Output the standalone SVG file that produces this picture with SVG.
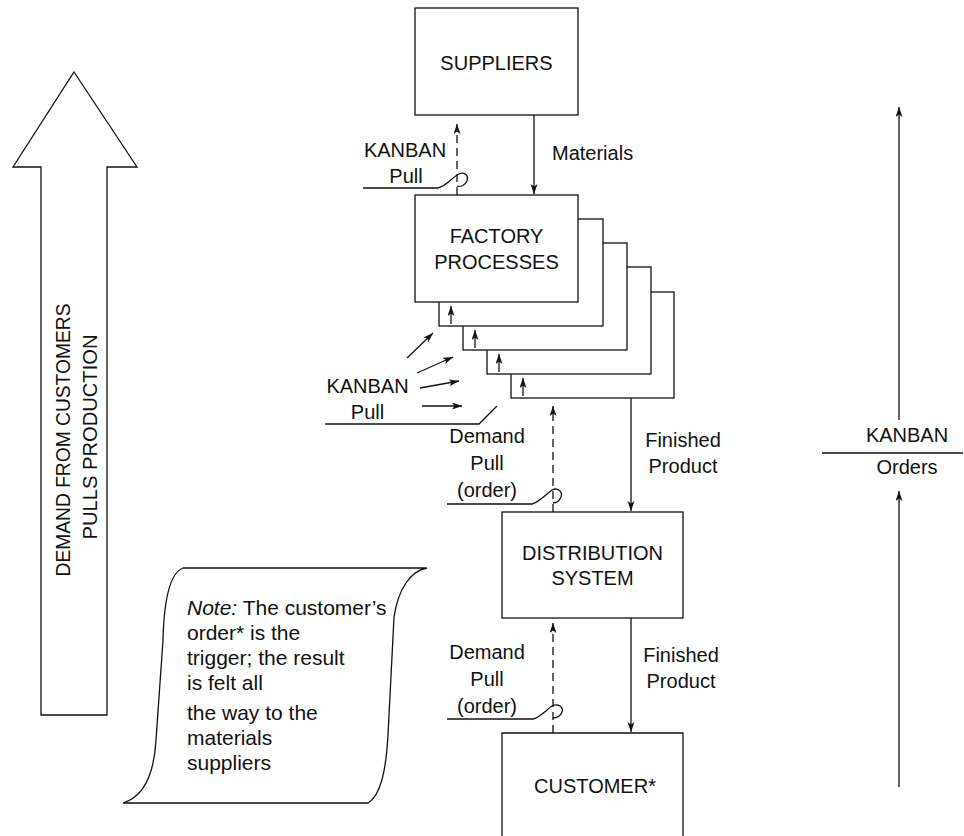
<svg xmlns="http://www.w3.org/2000/svg" width="964" height="836" viewBox="0 0 964 836">
<style>
  .ln { fill: none; stroke: #111; stroke-width: 1.3; }
  .dash { fill: none; stroke: #111; stroke-width: 1.3; stroke-dasharray: 8 5; }
  .box { fill: #fff; stroke: #111; stroke-width: 1.3; }
  text { font-family: "Liberation Sans", Arial, Helvetica, sans-serif; font-size: 20px; fill: #111; }
  .c { text-anchor: middle; }
  .note { font-size: 21px; }
</style>
<defs>
  <marker id="ah" markerUnits="userSpaceOnUse" markerWidth="12" markerHeight="8" refX="10" refY="3.5" orient="auto">
    <path d="M0,0 L10,3.5 L0,7 L2.5,3.5 Z" fill="#111"/>
  </marker>
</defs>

<!-- Big demand arrow -->
<g id="demand-arrow">
  <polygon class="box" points="74,72 137,167 107,167 107,715 41,715 41,167 13,167"/>
  <text class="c" transform="translate(70,440) rotate(-90)" font-size="22" textLength="273" lengthAdjust="spacingAndGlyphs">DEMAND FROM CUSTOMERS</text>
  <text class="c" transform="translate(97,437) rotate(-90)" font-size="22" textLength="205" lengthAdjust="spacingAndGlyphs">PULLS PRODUCTION</text>
</g>

<g id="suppliers">
  <rect class="box" x="415" y="8" width="163" height="107"/>
  <text class="c" x="496.5" y="70">SUPPLIERS</text>
</g>

<g id="factory">
  <rect class="box" x="511" y="292" width="163" height="106"/>
  <rect class="box" x="487" y="267" width="164" height="107"/>
  <rect class="box" x="463" y="243" width="164" height="107"/>
  <rect class="box" x="439" y="219" width="164" height="107"/>
  <rect class="box" x="415" y="195" width="163" height="107"/>
  <text class="c" x="496.5" y="243">FACTORY</text>
  <text class="c" x="496.5" y="269">PROCESSES</text>
</g>

<g id="distribution">
  <rect class="box" x="502" y="512" width="181" height="106"/>
  <text class="c" x="592.5" y="560">DISTRIBUTION</text>
  <text class="c" x="592.5" y="585">SYSTEM</text>
</g>

<g id="customer">
  <path class="box" d="M502,840 L502,733 L683,733 L683,840"/>
  <text class="c" x="595" y="793">CUSTOMER*</text>
</g>

<g id="note">
  <path class="box" d="M183,568 L427,568 C410,571 398,590 394,617 L388,735 C386,770 381,795 368,803 L123,803 C143,797 154,775 156,740 L163,640 C164,600 170,573 183,568 Z"/>
  <text class="note" x="187" y="615"><tspan font-style="italic">Note:</tspan> The customer’s</text>
  <text class="note" x="187" y="640">order* is the</text>
  <text class="note" x="187" y="665">trigger; the result</text>
  <text class="note" x="187" y="690">is felt all</text>
  <text class="note" x="187" y="720">the way to the</text>
  <text class="note" x="187" y="745">materials</text>
  <text class="note" x="187" y="770">suppliers</text>
</g>

<g id="connectors">
  <!-- Kanban pull: factory to suppliers -->
  <line class="dash" x1="457" y1="195" x2="457" y2="124" marker-end="url(#ah)"/>
  <path class="ln" d="M363,188 L438,188 C446,186 451,179 457,175 C463,171 469,174 467,181 C465,186 460,187 457,186"/>
  <!-- Materials -->
  <line class="ln" x1="534" y1="115" x2="534" y2="194" marker-end="url(#ah)"/>

  <!-- strip arrows in stacked factory boxes -->
  <line class="ln" x1="451" y1="324" x2="451" y2="306" marker-end="url(#ah)"/>
  <line class="ln" x1="475" y1="348" x2="475" y2="330" marker-end="url(#ah)"/>
  <line class="ln" x1="499" y1="372" x2="499" y2="354" marker-end="url(#ah)"/>
  <line class="ln" x1="523" y1="396" x2="523" y2="378" marker-end="url(#ah)"/>

  <!-- Kanban pull arrows (left of stack) -->
  <line class="ln" x1="407" y1="358" x2="433" y2="333" marker-end="url(#ah)"/>
  <line class="ln" x1="417" y1="373" x2="453" y2="357" marker-end="url(#ah)"/>
  <line class="ln" x1="420" y1="388" x2="459" y2="381" marker-end="url(#ah)"/>
  <line class="ln" x1="422" y1="406" x2="462" y2="406" marker-end="url(#ah)"/>
  <path class="ln" d="M325,424 L479,424 L497,406"/>

  <!-- Demand pull: distribution to factory -->
  <line class="dash" x1="553" y1="512" x2="553" y2="406" marker-end="url(#ah)"/>
  <path class="ln" d="M447,504 L532,504 C540,502 546,494 552,490 C558,487 563,492 561,497 C559,502 555,503 553,503"/>
  <!-- Finished product 1 -->
  <line class="ln" x1="631" y1="398" x2="631" y2="511" marker-end="url(#ah)"/>

  <!-- Demand pull: customer to distribution -->
  <line class="dash" x1="553" y1="733" x2="553" y2="623" marker-end="url(#ah)"/>
  <path class="ln" d="M447,719 L533,719 C541,717 547,709 552,706 C558,703 564,707 562,712 C560,717 556,718 553,718"/>
  <!-- Finished product 2 -->
  <line class="ln" x1="631" y1="618" x2="631" y2="732" marker-end="url(#ah)"/>

  <!-- Right KANBAN / Orders -->
  <line class="ln" x1="899" y1="420" x2="899" y2="107" marker-end="url(#ah)"/>
  <line class="ln" x1="822" y1="453" x2="963" y2="453"/>
  <line class="ln" x1="899" y1="787" x2="899" y2="491" marker-end="url(#ah)"/>
</g>

<g id="labels">
  <text class="c" x="405" y="157">KANBAN</text>
  <text class="c" x="406" y="183">Pull</text>
  <text x="552" y="160">Materials</text>
  <text class="c" x="367.5" y="393">KANBAN</text>
  <text class="c" x="367.5" y="419">Pull</text>
  <text class="c" x="487" y="443">Demand</text>
  <text class="c" x="487" y="470">Pull</text>
  <text class="c" x="487" y="497">(order)</text>
  <text class="c" x="683" y="447">Finished</text>
  <text class="c" x="683" y="473">Product</text>
  <text class="c" x="487" y="659">Demand</text>
  <text class="c" x="487" y="686">Pull</text>
  <text class="c" x="487" y="713">(order)</text>
  <text class="c" x="681" y="662">Finished</text>
  <text class="c" x="681" y="688">Product</text>
  <text class="c" x="907" y="442">KANBAN</text>
  <text class="c" x="907" y="474">Orders</text>
</g>
</svg>
